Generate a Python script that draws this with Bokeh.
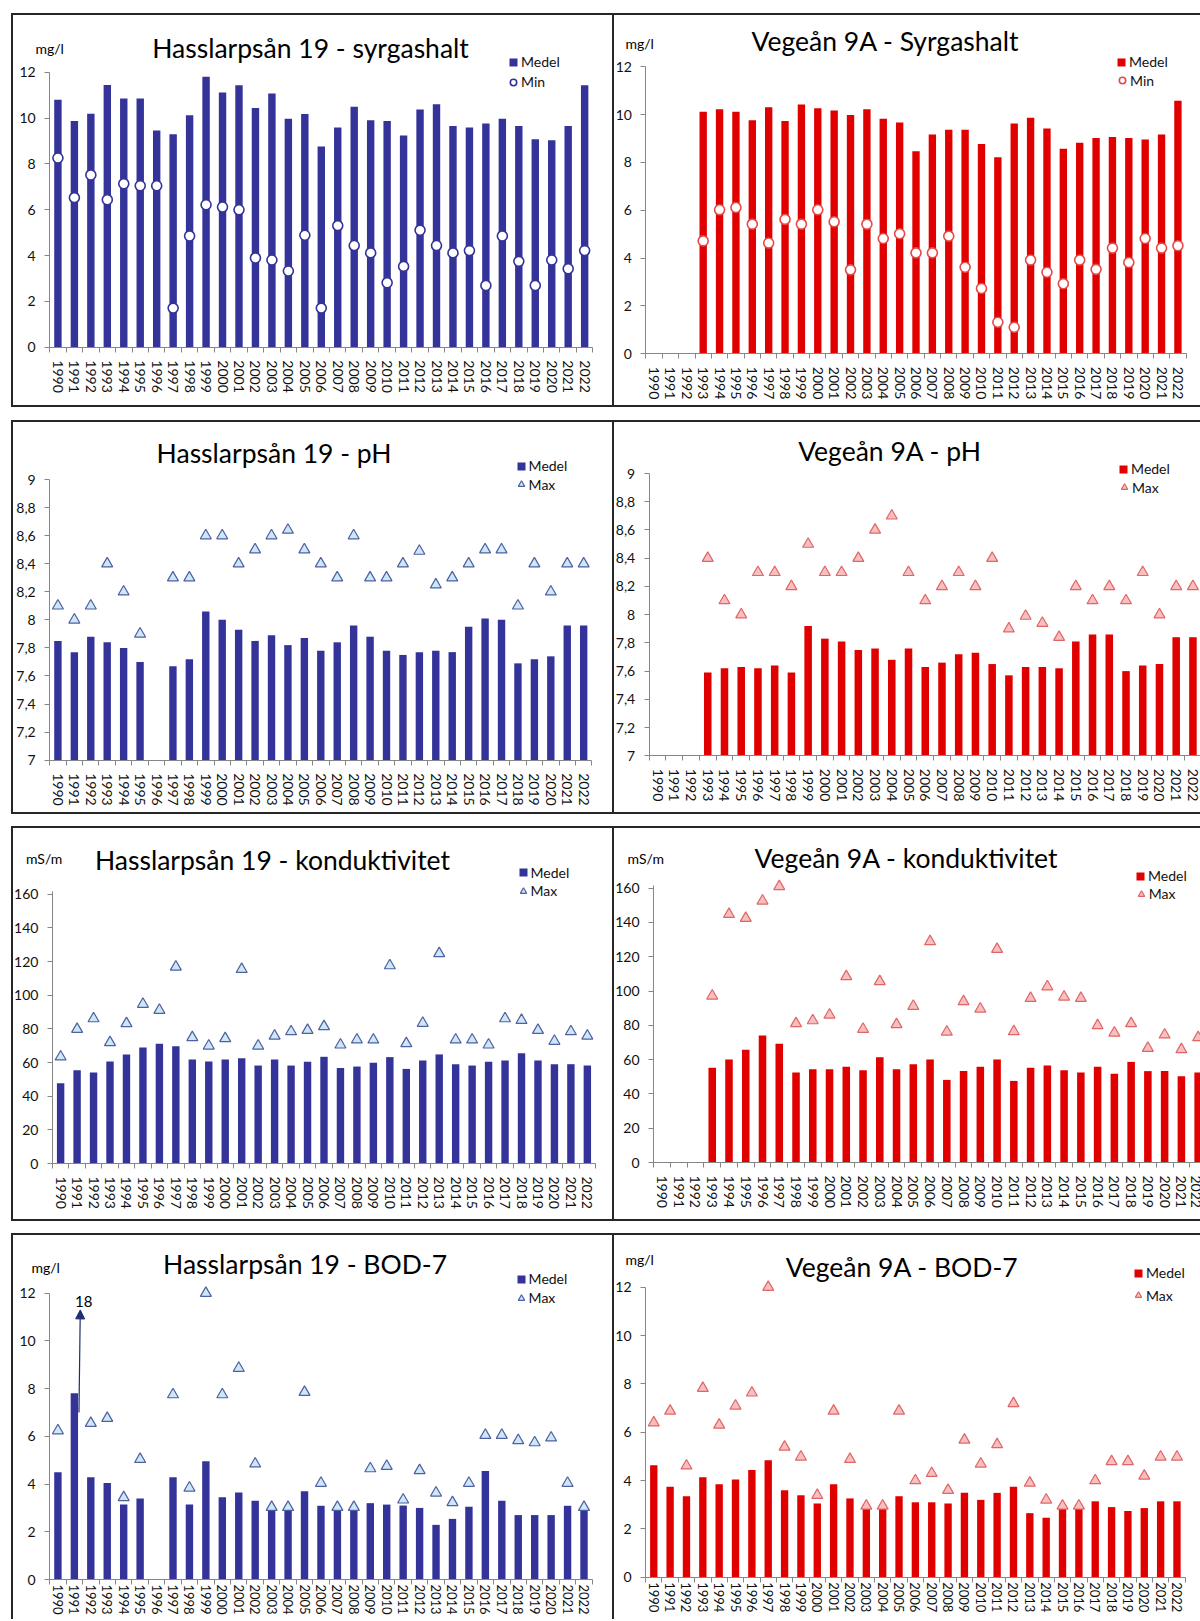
import math
from bokeh.plotting import figure
from bokeh.models import (Range1d, FixedTicker, Label, Legend, LegendItem, Arrow,
                          NormalHead, CustomJSTickFormatter)
from bokeh.layouts import column, row
from bokeh.embed import file_html
from bokeh.resources import INLINE

FONT = "Lato"
YEARS = list(range(1990, 2023))

# ---------------- data ----------------
H_SYR_MEDEL = [10.8, 9.87, 10.19, 11.45, 10.86, 10.86, 9.46, 9.3, 10.13, 11.81,
               11.12, 11.43, 10.44, 11.07, 9.97, 10.18, 8.76, 9.59, 10.5, 9.91,
               9.87, 9.24, 10.38, 10.61, 9.66, 9.59, 9.77, 9.97, 9.66, 9.08,
               9.04, 9.66, 11.43]
H_SYR_MIN = [8.26, 6.53, 7.52, 6.44, 7.14, 7.05, 7.05, 1.71, 4.86, 6.22,
             6.12, 6.0, 3.9, 3.81, 3.33, 4.89, 1.71, 5.31, 4.44, 4.12,
             2.82, 3.53, 5.11, 4.44, 4.12, 4.22, 2.7, 4.86, 3.75, 2.7,
             3.81, 3.43, 4.22]
V_SYR_MEDEL = [None, None, None,
               10.12, 10.22, 10.12, 9.77, 10.31, 9.73, 10.42, 10.27, 10.17, 9.98,
               10.22, 9.83, 9.67, 8.47, 9.17, 9.37, 9.37, 8.77, 8.22, 9.63,
               9.87, 9.42, 8.57, 8.82, 9.02, 9.07, 9.02, 8.96, 9.17, 10.58]
V_SYR_MIN = [None, None, None,
             4.72, 6.02, 6.12, 5.42, 4.63, 5.62, 5.42, 6.02, 5.52, 3.51,
             5.42, 4.82, 5.02, 4.22, 4.22, 4.92, 3.62, 2.73, 1.32, 1.11,
             3.92, 3.41, 2.93, 3.92, 3.53, 4.42, 3.82, 4.82, 4.42, 4.52]

H_PH_MEDEL = [7.85, 7.77, 7.88, 7.84, 7.80, 7.70, None, 7.67, 7.72, 8.06,
              8.0, 7.93, 7.85, 7.89, 7.82, 7.87, 7.78, 7.84, 7.96, 7.88,
              7.78, 7.75, 7.77, 7.78, 7.77, 7.95, 8.01, 8.0, 7.69, 7.72,
              7.74, 7.96, 7.96]
H_PH_MAX = [8.1, 8.0, 8.1, 8.4, 8.2, 7.9, None, 8.3, 8.3, 8.6,
            8.6, 8.4, 8.5, 8.6, 8.64, 8.5, 8.4, 8.3, 8.6, 8.3,
            8.3, 8.4, 8.49, 8.25, 8.3, 8.4, 8.5, 8.5, 8.1, 8.4,
            8.2, 8.4, 8.4]
V_PH_MEDEL = [None, None, None,
              7.59, 7.62, 7.63, 7.62, 7.64, 7.59, 7.92, 7.83, 7.81, 7.75,
              7.76, 7.68, 7.76, 7.63, 7.66, 7.72, 7.73, 7.65, 7.57, 7.63,
              7.63, 7.62, 7.81, 7.86, 7.86, 7.6, 7.64, 7.65, 7.84, 7.84]
V_PH_MAX = [None, None, None,
            8.4, 8.1, 8.0, 8.3, 8.3, 8.2, 8.5, 8.3, 8.3, 8.4,
            8.6, 8.7, 8.3, 8.1, 8.2, 8.3, 8.2, 8.4, 7.9, 7.99,
            7.94, 7.84, 8.2, 8.1, 8.2, 8.1, 8.3, 8.0, 8.2, 8.2]

H_KOND_MEDEL = [47.7, 55.4, 54.1, 60.6, 64.8, 68.9, 71.1, 69.7, 61.8, 60.6,
                61.8, 62.6, 58.2, 61.8, 58.2, 60.4, 63.4, 56.8, 57.6, 59.8,
                63.2, 56.2, 61.2, 64.8, 59.0, 58.2, 60.4, 61.2, 65.5, 61.2,
                59.0, 59.0, 58.2]
H_KOND_MAX = [63.4, 79.8, 86.1, 71.9, 83.2, 94.7, 91.1, 116.8, 74.9, 69.9,
              74.3, 115.4, 69.9, 75.8, 78.4, 79.2, 81.4, 70.5, 73.5, 73.5,
              117.6, 71.3, 83.4, 124.8, 73.5, 73.5, 70.5, 86.1, 85.1, 79.2,
              72.7, 78.4, 75.8]
V_KOND_MEDEL = [None, None, None,
                55.2, 60.1, 65.7, 74.1, 69.2, 52.5, 54.4, 54.4, 55.8, 53.8,
                61.4, 54.4, 57.3, 60.1, 48.2, 53.3, 55.8, 60.1, 47.6, 55.2,
                56.6, 53.8, 52.5, 55.8, 51.7, 58.7, 53.3, 53.3, 50.3, 52.5]
V_KOND_MAX = [None, None, None,
              97.2, 144.8, 142.5, 152.6, 161.0, 81.1, 82.8, 86.1, 108.5, 77.8,
              105.6, 80.5, 91.2, 128.9, 76.2, 93.9, 89.6, 124.4, 76.4, 95.8,
              102.6, 96.6, 95.8, 79.9, 75.6, 81.1, 66.7, 74.5, 65.9, 72.9]

H_BOD_MEDEL = [4.5, 7.81, 4.29, 4.04, 3.14, 3.39, None, 4.29, 3.14, 4.96,
               3.45, 3.65, 3.3, 2.9, 2.9, 3.7, 3.09, 2.9, 2.9, 3.2,
               3.14, 3.1, 3.0, 2.29, 2.54, 3.05, 4.55, 3.3, 2.7, 2.7,
               2.7, 3.09, 2.9]
H_BOD_MAX = [6.24, 18, 6.55, 6.76, 3.44, 5.04, None, 7.75, 3.84, 12.0,
             7.75, 8.86, 4.85, 3.03, 3.03, 7.85, 4.04, 3.03, 3.03, 4.65,
             4.75, 3.34, 4.57, 3.63, 3.23, 4.04, 6.05, 6.05, 5.83, 5.74,
             5.94, 4.04, 3.03]
V_BOD_MEDEL = [4.63, 3.74, 3.35, 4.14, 3.85, 4.04, 4.44, 4.84, 3.6, 3.39,
               3.05, 3.85, 3.26, 3.0, 3.0, 3.35, 3.1, 3.1, 3.05, 3.49,
               3.2, 3.49, 3.74, 2.65, 2.46, 3.0, 3.0, 3.14, 2.9, 2.74,
               2.86, 3.14, 3.14]
V_BOD_MAX = [6.39, 6.88, 4.61, 7.82, 6.3, 7.09, 7.63, 12.0, 5.39, 4.98,
             3.39, 6.88, 4.88, 2.95, 2.95, 6.88, 4.0, 4.3, 3.6, 5.68,
             4.69, 5.49, 7.19, 3.9, 3.2, 2.95, 2.95, 4.0, 4.79, 4.79,
             4.19, 4.98, 4.98]

TICKS_12 = [0, 2, 4, 6, 8, 10, 12]
TICKS_PH = [7.0, 7.2, 7.4, 7.6, 7.8, 8.0, 8.2, 8.4, 8.6, 8.8, 9.0]
TICKS_160 = [0, 20, 40, 60, 80, 100, 120, 140, 160]

# ---------------- styles ----------------
BLUE = "#333399"
RED = "#E00000"
AX = "#868686"
BORDER = "2px solid #262626"
H_STYLE = dict(bar=BLUE, circ_fill="white", circ_line=BLUE,
               tri_fill="#CCE8F8", tri_line="#4F5F9F")
V_STYLE = dict(bar=RED, circ_fill="white", circ_line="#E84848",
               tri_fill="#F7BFBF", tri_line="#E06666")
X0 = YEARS[0] - 0.5
X1 = YEARS[-1] + 0.5
TITLE_PX = 26.5
BASE_SHIFT = 0.37   # empirical: label baseline sits this many em lower than asked


def pairs(vals):
    xs = [y for y, v in zip(YEARS, vals) if v is not None]
    vs = [v for v in vals if v is not None]
    return xs, vs


def make_panel(c):
    ox, oy = c["origin"]          # canvas top-left on the page
    W, H = c["size"]
    FLp, cw = c["xcal"]
    vtop, ytop, v0, y0p = c["ycal"]
    s = (y0p - ytop) / (vtop - v0)
    xs = X0 - (FLp - ox) / cw
    xe = X0 + (ox + W - FLp) / cw
    ys = v0 - (oy + H - y0p) / s
    ye = v0 + (y0p - oy) / s

    p = figure(width=W, height=H, output_backend="svg", toolbar_location=None,
               x_range=Range1d(xs, xe), y_range=Range1d(ys, ye),
               min_border_left=0, min_border_right=0,
               min_border_top=0, min_border_bottom=0,
               outline_line_color=None, background_fill_color="white",
               border_fill_color="white", styles=c["styles"])
    p.xgrid.visible = False
    p.ygrid.visible = False

    xa = p.xaxis[0]
    xa.fixed_location = v0
    xa.bounds = (X0, min(X1, xe))
    xa.ticker = FixedTicker(ticks=YEARS,
                            minor_ticks=[y - 0.5 for y in YEARS] + [X1])
    xa.major_label_orientation = "vertical"
    xa.major_tick_out = 0
    xa.major_tick_in = 0
    xa.minor_tick_out = 5
    xa.minor_tick_in = 0
    xa.minor_tick_line_color = AX
    xa.axis_line_color = AX
    xa.major_label_text_font = FONT
    xa.major_label_text_font_size = c.get("xfont", "14px")
    xa.major_label_text_color = "#111111"
    xa.major_label_standoff = c.get("xstandoff", 8)

    ya = p.yaxis[0]
    ya.fixed_location = X0
    ya.bounds = (v0, c["ymax"])
    ya.ticker = FixedTicker(ticks=c["yticks"])
    ya.minor_tick_line_color = None
    ya.major_tick_out = 5
    ya.major_tick_in = 0
    ya.major_tick_line_color = AX
    ya.axis_line_color = AX
    ya.major_label_text_font = FONT
    ya.major_label_text_font_size = "14px"
    ya.major_label_text_color = "#111111"
    ya.major_label_standoff = 9
    if c.get("comma"):
        ya.formatter = CustomJSTickFormatter(
            code="return (Math.round(tick*10)/10).toString().replace('.', ',');")

    st = c["style"]
    bx, bv = pairs(c["medel"])
    bars = p.vbar(x=bx, top=bv, bottom=v0, width=0.45,
                  fill_color=st["bar"], line_color=None)
    mx, mv = pairs(c["extra"])
    if c["marker"] == "circle":
        marks = p.scatter(x=mx, y=mv, marker="circle", size=10,
                          fill_color=st["circ_fill"], line_color=st["circ_line"],
                          line_width=1.6)
    else:
        marks = p.scatter(x=mx, y=mv, marker="triangle", size=11,
                          fill_color=st["tri_fill"], line_color=st["tri_line"],
                          line_width=1.2)

    FB = oy + H

    def lab(text, X, Y, size, align="left"):
        Yb = Y - BASE_SHIFT * size
        p.add_layout(Label(x=X - ox, y=FB - Yb, x_units="screen", y_units="screen",
                           text=text, text_font=FONT, text_font_size=f"{size}px",
                           text_align=align, text_baseline="alphabetic",
                           text_color="#000000"))

    t, tx, ty = c["title"]
    lab(t, tx, ty, TITLE_PX, "center")
    if c.get("unit"):
        u, ux, uy = c["unit"]
        lab(u, ux, uy, 14)

    def leg(r, text, cx, cy, g, so):
        p.add_layout(Legend(items=[LegendItem(label=text, renderers=[r])],
                            location=(cx - g / 2 - ox, FB - cy - g / 2),
                            orientation="vertical", glyph_width=g, glyph_height=g,
                            label_height=g, label_width=10, label_standoff=so,
                            padding=0, margin=0, spacing=0,
                            border_line_color=None, background_fill_alpha=0,
                            label_text_font=FONT, label_text_font_size="14px",
                            label_text_color="#111111"))

    (sqx, sqy), (mkx, mky) = c["legend"]
    leg(bars, "Medel", sqx, sqy + 3, 10, 3)
    leg(marks, c["extra_name"], mkx, mky, 16, 0)
    return p


L_FULL = {"border": BORDER}
R_TB = {"border-top": BORDER, "border-bottom": BORDER}
L_LAST = {"border-top": BORDER, "border-left": BORDER, "border-right": BORDER}
R_LAST = {"border-top": BORDER}

LW, RW = 603, 586            # outer widths (border-box)
RH = [394, 394, 395, 386]     # outer heights per row

cfgs = [
    dict(origin=(13, 15), size=(LW, RH[0]), xcal=(49.2, 16.46),
         ycal=(12, 71.8, 0, 346.8), ymax=12, yticks=TICKS_12, style=H_STYLE, styles=L_FULL,
         medel=H_SYR_MEDEL, extra=H_SYR_MIN, marker="circle", extra_name="Min",
         title=("Hasslarpsån 19 - syrgashalt", 310, 57.3), unit=("mg/l", 35, 53),
         legend=((513, 62.3), (513, 82.3))),
    dict(origin=(614, 15), size=(RW, RH[0]), xcal=(645.4, 16.37),
         ycal=(12, 66.3, 0, 353.3), ymax=12, yticks=TICKS_12, style=V_STYLE, styles=R_TB,
         medel=V_SYR_MEDEL, extra=V_SYR_MIN, marker="circle", extra_name="Min",
         title=("Vegeån 9A - Syrgashalt", 885, 50.7), unit=("mg/l", 625, 48.3),
         legend=((1121, 62.3), (1122, 80.7))),
    dict(origin=(13, 422), size=(LW, RH[1]), xcal=(49.2, 16.43),
         ycal=(9, 479, 7, 759.7), ymax=9, yticks=TICKS_PH, comma=True, style=H_STYLE,
         styles=L_FULL, medel=H_PH_MEDEL, extra=H_PH_MAX, marker="triangle",
         extra_name="Max", title=("Hasslarpsån 19 - pH", 273.6, 462.5),
         legend=((520.6, 466.3), (520.6, 484.7))),
    dict(origin=(614, 422), size=(RW, RH[1]), xcal=(648.7, 16.73),
         ycal=(9, 473, 7, 755.3), ymax=9, yticks=TICKS_PH, comma=True, style=V_STYLE,
         styles=R_TB, medel=V_PH_MEDEL, extra=V_PH_MAX, marker="triangle",
         extra_name="Max", title=("Vegeån 9A - pH", 889.5, 460.7),
         legend=((1123.1, 469), (1123.9, 487.7))),
    dict(origin=(13, 828), size=(LW, RH[2]), xcal=(51.9, 16.46),
         ycal=(160, 893.7, 0, 1163), ymax=161.5, yticks=TICKS_160,
         style=H_STYLE, styles=L_FULL, medel=H_KOND_MEDEL, extra=H_KOND_MAX,
         marker="triangle", extra_name="Max",
         title=("Hasslarpsån 19 - konduktivitet", 272, 869.7), unit=("mS/m", 25.4, 862.7),
         legend=((522.5, 872.7), (522.5, 891.3))),
    dict(origin=(614, 828), size=(RW, RH[2]), xcal=(653.1, 16.755),
         ycal=(160, 887.7, 0, 1162), ymax=161.5, yticks=TICKS_160,
         style=V_STYLE, styles=R_TB, medel=V_KOND_MEDEL, extra=V_KOND_MAX,
         marker="triangle", extra_name="Max",
         title=("Vegeån 9A - konduktivitet", 906, 867.7), unit=("mS/m", 627, 862.7),
         legend=((1140, 876), (1140.75, 894.3))),
    dict(origin=(13, 1235), size=(LW, RH[3]), xcal=(49.2, 16.44),
         ycal=(12, 1292.7, 0, 1579), ymax=12, yticks=TICKS_12, xstandoff=0, xfont="13px",
         style=H_STYLE, styles=L_LAST, medel=H_BOD_MEDEL, extra=H_BOD_MAX,
         marker="triangle", extra_name="Max",
         title=("Hasslarpsån 19 - BOD-7", 304.6, 1273.3), unit=("mg/l", 31, 1271.7),
         legend=((520.6, 1279.3), (520.6, 1298.3))),
    dict(origin=(614, 1235), size=(RW, RH[3]), xcal=(645.1, 16.35),
         ycal=(12, 1286.7, 0, 1576.7), ymax=12, yticks=TICKS_12, xstandoff=0, xfont="13px",
         style=V_STYLE, styles=R_LAST, medel=V_BOD_MEDEL, extra=V_BOD_MAX,
         marker="triangle", extra_name="Max",
         title=("Vegeån 9A - BOD-7", 901.7, 1276.7), unit=("mg/l", 625, 1264.3),
         legend=((1138, 1273.3), (1138, 1295.7))),
]

panels = [make_panel(c) for c in cfgs]

# off-scale maximum (18 mg/l in 1991) shown as an arrow with its value
p7 = panels[6]
off_year = YEARS[1]
off_val = H_BOD_MAX[1]
NAVY = "#1F2F6F"
p7.add_layout(Arrow(end=NormalHead(size=9, fill_color=NAVY, line_color=NAVY, line_width=1),
                    x_start=off_year + 0.28, y_start=7.0, x_end=off_year + 0.36, y_end=11.3,
                    line_color=NAVY, line_width=1.2))
p7.add_layout(Label(x=off_year + 0.57, y=11.67, text=str(off_val), text_align="center",
                    text_baseline="alphabetic", text_font=FONT, text_font_size="15px",
                    text_color="#000000"))

r1 = row(panels[0], panels[1], margin=(13, 0, 0, 11))
r2 = row(panels[2], panels[3], margin=(13, 0, 0, 11))
r3 = row(panels[4], panels[5], margin=(12, 0, 0, 11))
r4 = row(panels[6], panels[7], margin=(12, 0, 0, 11))
root = column(r1, r2, r3, r4)

open("out.html", "w").write(file_html(root, INLINE))
